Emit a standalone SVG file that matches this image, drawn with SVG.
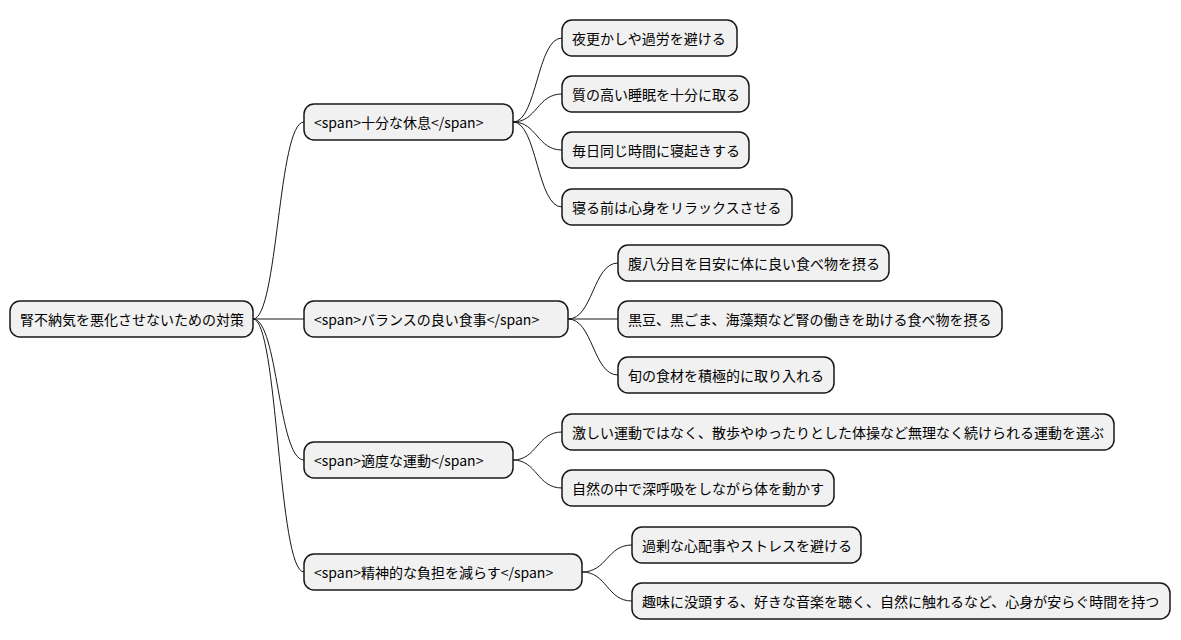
<svg xmlns="http://www.w3.org/2000/svg" width="1181" height="640" viewBox="0 0 1181 640">
<style>
rect{fill:#F1F1F1;stroke:#181818;stroke-width:1.5}
text{font-family:"Noto Sans CJK JP","Noto Sans",sans-serif;font-size:14px;fill:#000;dominant-baseline:central}
.c path{fill:none;stroke:#181818;stroke-width:1}
</style>
<rect x="0" y="0" width="1181" height="640" style="fill:#fff;stroke:none"/>
<g class="c">
<path d="M253,319 C278,319 278,122 304,122"/>
<path d="M253,319 L304,319"/>
<path d="M253,319 C278,319 278,460 304,460"/>
<path d="M253,319 C278,319 278,572 304,572"/>
<path d="M513,122 C537,122 537,38 562,38"/>
<path d="M513,122 C537,122 537,94 562,94"/>
<path d="M513,122 C537,122 537,150 562,150"/>
<path d="M513,122 C537,122 537,207 562,207"/>
<path d="M568,319 C593,319 593,263 618,263"/>
<path d="M568,319 L618,319"/>
<path d="M568,319 C593,319 593,375 618,375"/>
<path d="M513,460 C537,460 537,432 562,432"/>
<path d="M513,460 C537,460 537,488 562,488"/>
<path d="M582,572 C607,572 607,545 632,545"/>
<path d="M582,572 C607,572 607,601 632,601"/>
</g>
<g id="root"><rect x="10" y="301" width="243" height="36" rx="10"/><text x="20" y="319">腎不納気を悪化させないための対策</text></g>
<g id="n1"><rect x="304" y="104" width="209" height="36" rx="10"/><text x="314" y="122">&lt;span&gt;十分な休息&lt;/span&gt;</text></g>
<g id="n2"><rect x="304" y="301" width="264" height="36" rx="10"/><text x="314" y="319">&lt;span&gt;バランスの良い食事&lt;/span&gt;</text></g>
<g id="n3"><rect x="304" y="442" width="209" height="36" rx="10"/><text x="314" y="460">&lt;span&gt;適度な運動&lt;/span&gt;</text></g>
<g id="n4"><rect x="304" y="554" width="278" height="36" rx="10"/><text x="314" y="572">&lt;span&gt;精神的な負担を減らす&lt;/span&gt;</text></g>
<g id="n11"><rect x="562" y="20" width="175" height="36" rx="10"/><text x="572" y="38">夜更かしや過労を避ける</text></g>
<g id="n12"><rect x="562" y="76" width="187" height="36" rx="10"/><text x="572" y="94">質の高い睡眠を十分に取る</text></g>
<g id="n13"><rect x="562" y="132" width="187" height="36" rx="10"/><text x="572" y="150">毎日同じ時間に寝起きする</text></g>
<g id="n14"><rect x="562" y="189" width="230" height="36" rx="10"/><text x="572" y="207">寝る前は心身をリラックスさせる</text></g>
<g id="n21"><rect x="618" y="245" width="271" height="36" rx="10"/><text x="628" y="263">腹八分目を目安に体に良い食べ物を摂る</text></g>
<g id="n22"><rect x="618" y="301" width="384" height="36" rx="10"/><text x="628" y="319">黒豆、黒ごま、海藻類など腎の働きを助ける食べ物を摂る</text></g>
<g id="n23"><rect x="618" y="357" width="216" height="36" rx="10"/><text x="628" y="375">旬の食材を積極的に取り入れる</text></g>
<g id="n31"><rect x="562" y="414" width="552" height="36" rx="10"/><text x="572" y="432">激しい運動ではなく、散歩やゆったりとした体操など無理なく続けられる運動を選ぶ</text></g>
<g id="n32"><rect x="562" y="470" width="272" height="36" rx="10"/><text x="572" y="488">自然の中で深呼吸をしながら体を動かす</text></g>
<g id="n41"><rect x="632" y="527" width="229" height="36" rx="10"/><text x="642" y="545">過剰な心配事やストレスを避ける</text></g>
<g id="n42"><rect x="632" y="583" width="538" height="36" rx="10"/><text x="642" y="601">趣味に没頭する、好きな音楽を聴く、自然に触れるなど、心身が安らぐ時間を持つ</text></g>
</svg>
